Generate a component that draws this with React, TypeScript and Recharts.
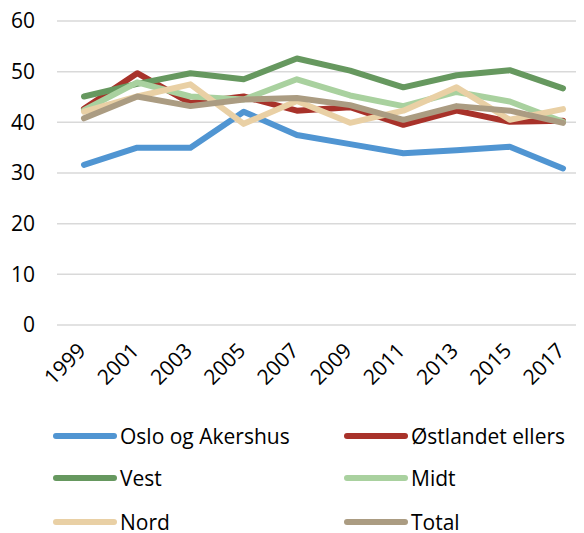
import React from "react";
import { LineChart, Line, XAxis, YAxis, CartesianGrid } from "recharts";

const years = ["1999", "2001", "2003", "2005", "2007", "2009", "2011", "2013", "2015", "2017"];
const osloOgAkershus = [31.6, 35.0, 35.0, 42.1, 37.5, 35.7, 33.9, 34.5, 35.2, 30.9];
const ostlandetEllers = [42.7, 49.7, 43.8, 45.1, 42.3, 43.0, 39.5, 42.3, 40.1, 40.3];
const vest = [45.1, 47.6, 49.7, 48.5, 52.6, 50.2, 46.9, 49.3, 50.3, 46.7];
const midt = [42.4, 47.9, 45.1, 44.5, 48.5, 45.3, 43.2, 46.0, 44.1, 40.1];
const nord = [42.1, 45.1, 47.5, 39.7, 44.2, 39.9, 42.3, 46.9, 40.5, 42.6];
const total = [40.8, 45.1, 43.2, 44.5, 44.8, 43.4, 40.5, 43.2, 42.3, 39.9];
const yTicks = [0, 10, 20, 30, 40, 50, 60];

const series = [
  { key: "oslo", name: "Oslo og Akershus", color: "#5095d2", values: osloOgAkershus },
  { key: "ost", name: "Østlandet ellers", color: "#a8322a", values: ostlandetEllers },
  { key: "vest", name: "Vest", color: "#66985f", values: vest },
  { key: "midt", name: "Midt", color: "#a9d19f", values: midt },
  { key: "nord", name: "Nord", color: "#e9d0a5", values: nord },
  { key: "total", name: "Total", color: "#ab9c82", values: total },
];

const data = years.map((y, i) => {
  const row: Record<string, any> = { year: y };
  series.forEach((s) => (row[s.key] = s.values[i]));
  return row;
});

const FONT = "'Open Sans', 'Noto Sans', sans-serif";

const XTick = (props: any) => {
  const { x, y, payload } = props;
  return (
    <g transform={`translate(${x + 3},${y + 19})`}>
      <text transform="rotate(-45)" textAnchor="end" fontSize={21} fontFamily={FONT} fill="#000">
        {payload.value}
      </text>
    </g>
  );
};

const legendPos = [
  { left: 45, top: 428 },
  { left: 336, top: 428 },
  { left: 45, top: 470 },
  { left: 336, top: 470 },
  { left: 45, top: 514 },
  { left: 336, top: 514 },
];

export default function App() {
  return (
    <div style={{ position: "relative", width: 576, height: 525 }}>
      <LineChart width={576} height={525} data={data} margin={{ top: 13, right: 0, bottom: 0, left: 0 }}>
        <CartesianGrid vertical={false} stroke="#d9d9d9" strokeWidth={1.5} />
        <XAxis
          dataKey="year"
          height={208}
          axisLine={false}
          tickLine={false}
          interval={0}
          padding={{ left: 27, right: 21 }}
          tick={<XTick />}
        />
        <YAxis
          width={49}
          domain={[0, 60]}
          ticks={yTicks}
          axisLine={false}
          tickLine={false}
          tickMargin={16}
          tick={{ fontSize: 21, fontFamily: FONT, fill: "#000" }}
        />
        {series.map((s) => (
          <Line
            key={s.key}
            dataKey={s.key}
            name={s.name}
            stroke={s.color}
            strokeWidth={6}
            dot={false}
            activeDot={false}
            strokeLinejoin="round"
            strokeLinecap="round"
            isAnimationActive={false}
          />
        ))}
      </LineChart>
      {series.map((s, i) => (
        <div
          key={s.key}
          style={{
            position: "absolute",
            left: legendPos[i].left,
            top: legendPos[i].top - 12,
            height: 24,
            lineHeight: "24px",
            display: "flex",
            alignItems: "center",
            fontFamily: FONT,
            fontSize: 21,
            color: "#000",
            whiteSpace: "nowrap",
          }}
        >
          <svg width={64} height={10} style={{ marginRight: 3 }}>
            <line x1={3} y1={5} x2={61} y2={5} stroke={s.color} strokeWidth={6} strokeLinecap="round" />
          </svg>
          <span>{s.name}</span>
        </div>
      ))}
    </div>
  );
}
